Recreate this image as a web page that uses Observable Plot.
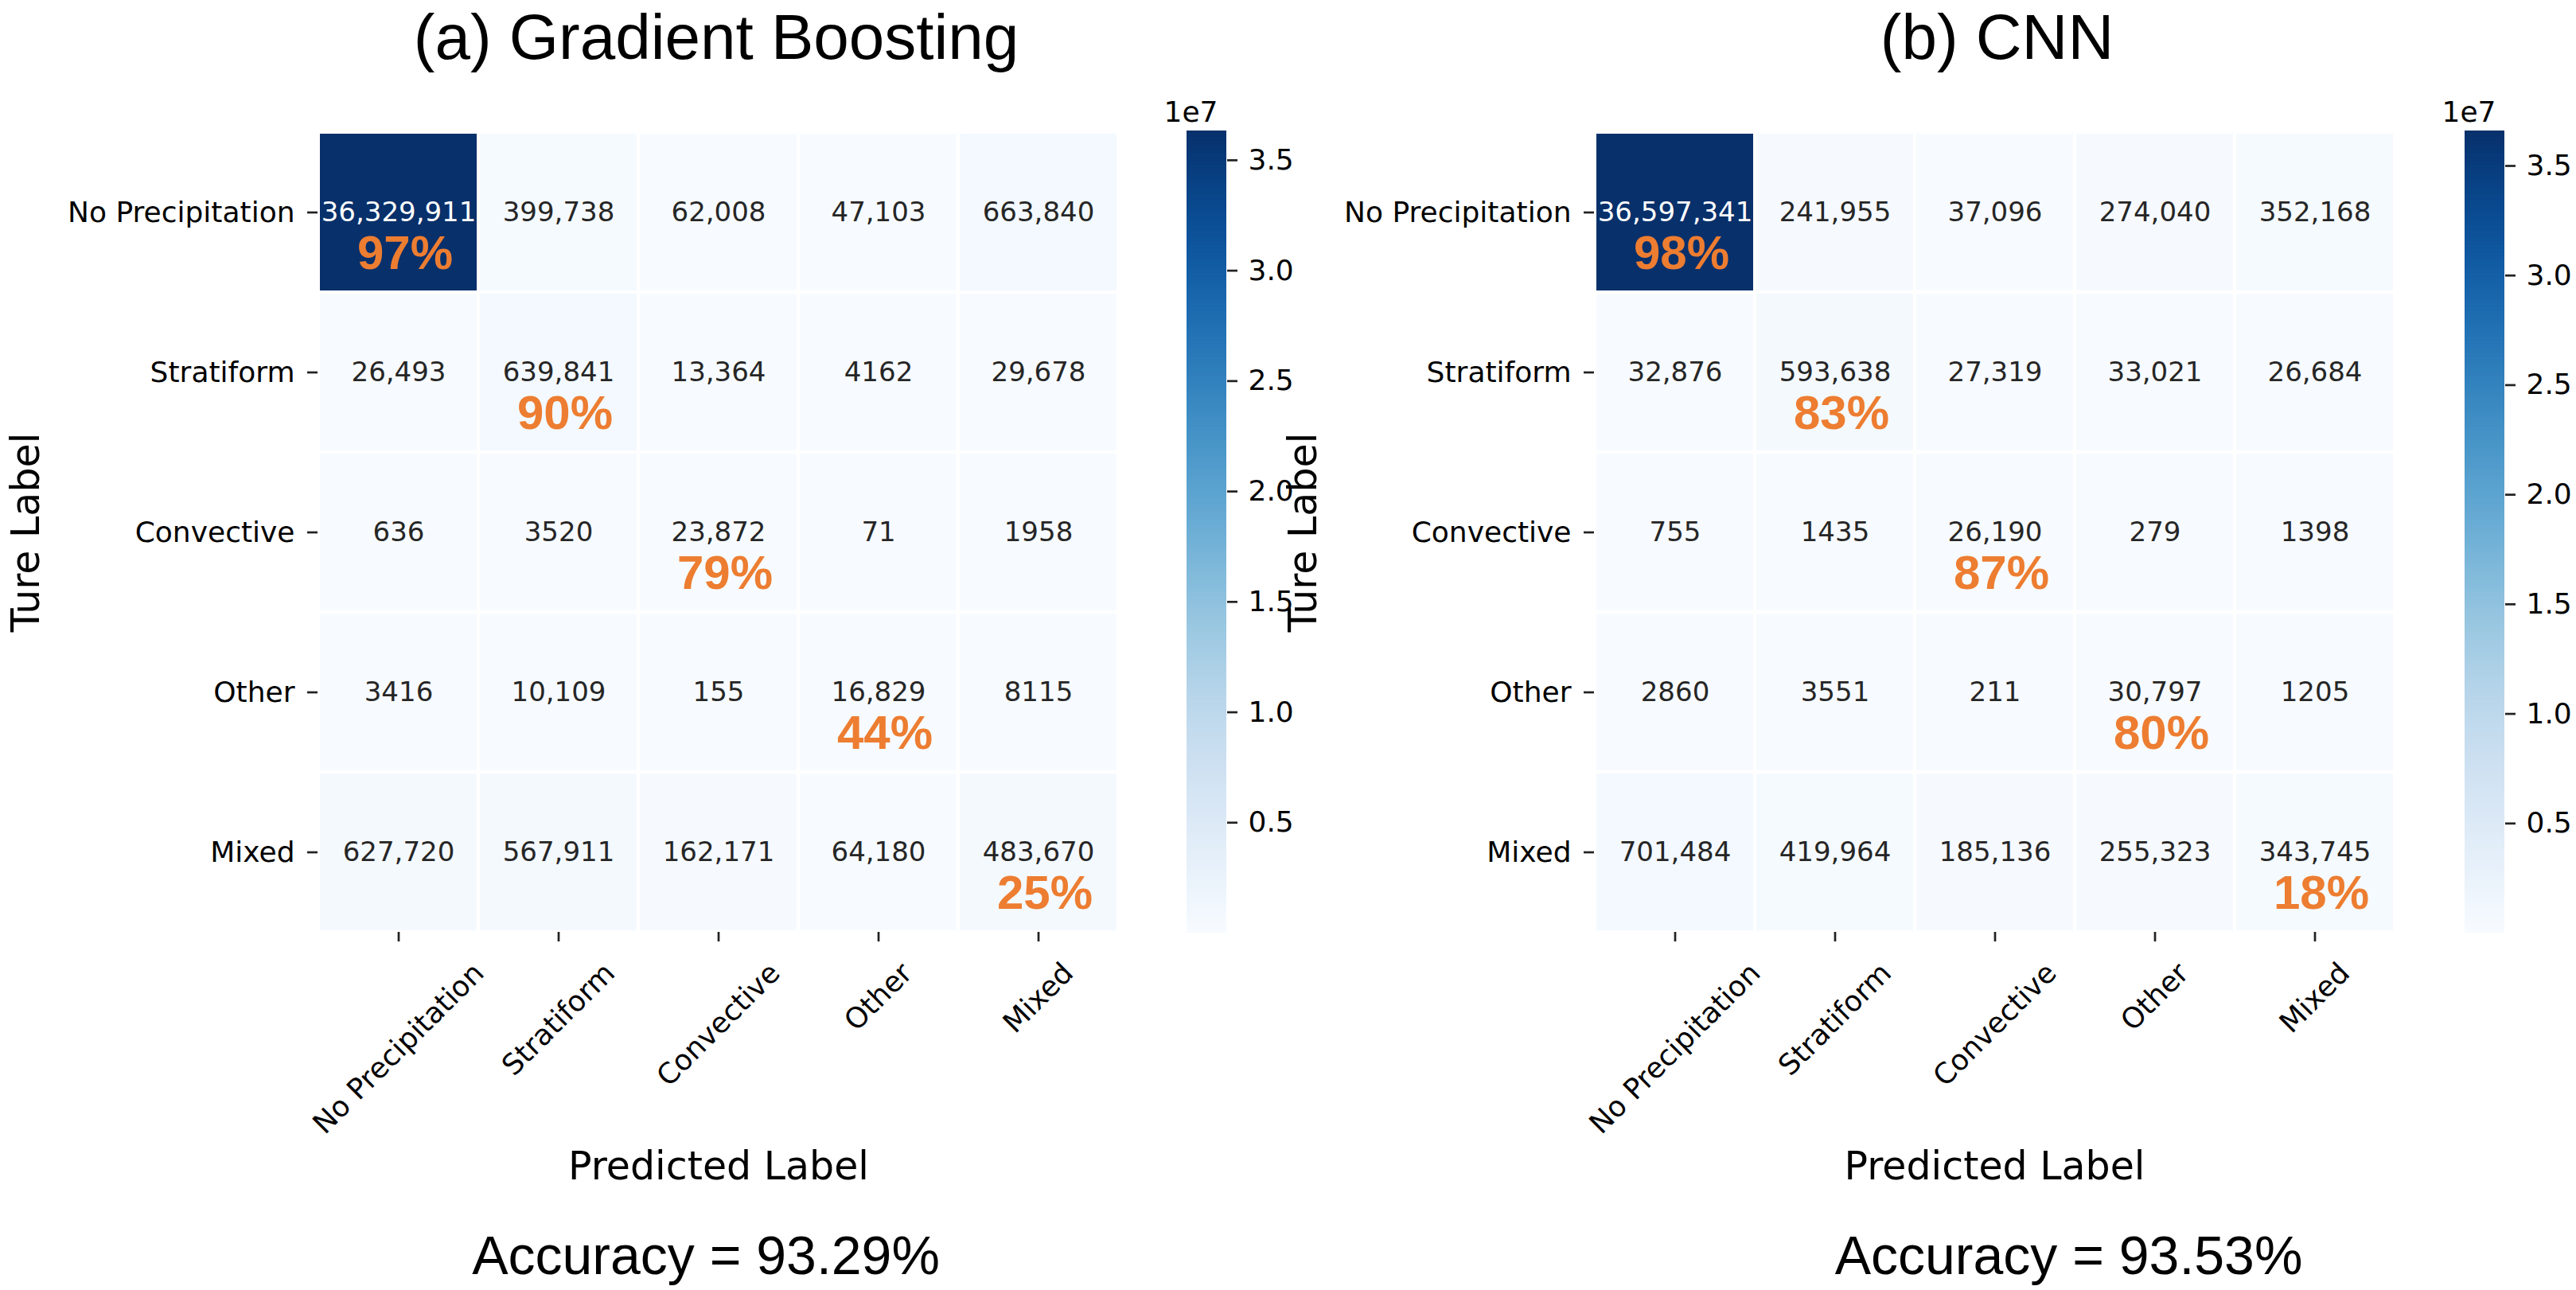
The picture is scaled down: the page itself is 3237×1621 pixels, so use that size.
<!DOCTYPE html>
<html>
<head>
<meta charset="utf-8">
<script src="https://cdn.jsdelivr.net/npm/d3@7"></script>
<script src="https://cdn.jsdelivr.net/npm/@observablehq/plot@0.6"></script>
<style>
html, body { margin: 0; padding: 0; background: #fff; }
#fig { position: relative; width: 3237px; height: 1621px; background: #fff; overflow: hidden; }
#fig svg { position: absolute; top: 0; }
</style>
</head>
<body>
<div id="fig"></div>
<script>
// ---------------- data ----------------
const classes = ["No Precipitation", "Stratiform", "Convective", "Other", "Mixed"];

// rows = true label, columns = predicted label
const gbCounts = [
  [36329911, 399738, 62008, 47103, 663840],
  [26493, 639841, 13364, 4162, 29678],
  [636, 3520, 23872, 71, 1958],
  [3416, 10109, 155, 16829, 8115],
  [627720, 567911, 162171, 64180, 483670]
];
const cnnCounts = [
  [36597341, 241955, 37096, 274040, 352168],
  [32876, 593638, 27319, 33021, 26684],
  [755, 1435, 26190, 279, 1398],
  [2860, 3551, 211, 30797, 1205],
  [701484, 419964, 185136, 255323, 343745]
];
const gbRecall = [97, 90, 79, 44, 25];
const cnnRecall = [98, 83, 87, 80, 18];

const colorbarTicks = [5e6, 1e7, 1.5e7, 2e7, 2.5e7, 3e7, 3.5e7];
const panelTitles = ["(a) Gradient Boosting", "(b) CNN"];
const accuracyTexts = ["Accuracy = 93.29%", "Accuracy = 93.53%"];
const xAxisLabel = "Predicted Label";
const yAxisLabel = "Ture Label";

// ---------------- layout ----------------
const H = 1621;
const FRAME_TOP = 166, FRAME_BOTTOM = 1171;
const TICK_FS = 36;
const SANS = "'DejaVu Sans', sans-serif";
const ARIAL = "'Liberation Sans', Arial, sans-serif";
const fig = document.getElementById("fig");
const ctx = document.createElement("canvas").getContext("2d");
function textWidth(s, font) { ctx.font = font; return ctx.measureText(s).width; }
function fmtCount(v) { return v >= 10000 ? d3.format(",")(v) : String(v); }

const baseStyle = {background: "none", overflow: "visible", maxWidth: "none", fontFamily: SANS, color: "black"};

function place(svg, left) {
  svg.style.left = left + "px";
  svg.style.position = "absolute";
  svg.style.top = "0px";
  fig.appendChild(svg);
}

function panel(cfg) {
  const cells = [];
  cfg.counts.forEach((row, i) => row.forEach((v, j) => cells.push({t: classes[i], p: classes[j], v})));
  const diag = classes.map((c, i) => ({t: c, p: c, pct: cfg.recall[i]}));
  const vals = cells.map(d => d.v);
  const dom = [d3.min(vals), d3.max(vals)];
  const color = {type: "linear", scheme: "blues", domain: dom};

  const heat = Plot.plot({
    width: cfg.marginLeft + cfg.frameW + 20,
    height: H,
    marginLeft: cfg.marginLeft, marginRight: 20,
    marginTop: FRAME_TOP, marginBottom: H - FRAME_BOTTOM,
    x: {domain: classes, padding: 0},
    y: {domain: classes, padding: 0},
    color,
    style: {...baseStyle},
    marks: [
      Plot.cell(cells, {x: "p", y: "t", fill: "v", inset: 2}),
      Plot.text(cells, {
        x: "p", y: "t", text: d => fmtCount(d.v),
        fill: d => d.v > dom[1] * 0.5 ? "white" : "#262626",
        fontSize: 34
      }),
      Plot.text(diag, {
        x: "p", y: "t", text: d => d.pct + "%",
        dx: 8, dy: 52, fill: "#ED7D31",
        fontSize: 60, fontWeight: "bold", fontFamily: ARIAL
      }),
      Plot.axisY({tickSize: 13, tickPadding: 16, fontSize: TICK_FS, label: null, stroke: "#222", strokeWidth: 2.7}),
      Plot.axisX({tickSize: 12, tickFormat: () => "", label: null, stroke: "#222", strokeWidth: 2.7}),
      Plot.text(classes, {x: d => d, frameAnchor: "bottom", rotate: -45, textAnchor: "middle", lineAnchor: "middle", fontSize: TICK_FS}),
      Plot.text([xAxisLabel], {frameAnchor: "bottom", dy: 310, lineAnchor: "bottom", fontSize: 49}),
      Plot.text([yAxisLabel], {frameAnchor: "left", dx: cfg.yLabelDx, rotate: -90, textAnchor: "middle", lineAnchor: "bottom", fontSize: 49}),
      Plot.text([cfg.title], {frameAnchor: "top", dy: -93, dx: cfg.titleDx, lineAnchor: "bottom", fontSize: 80, fontFamily: ARIAL}),
      Plot.text([cfg.accuracy], {frameAnchor: "bottom", dy: 429, dx: cfg.accDx, lineAnchor: "bottom", fontSize: 68, fontFamily: ARIAL})
    ]
  });

  // matplotlib-style rotated tick labels: rotated bbox centred under the tick, top at fixed offset
  const capH = 0.73 * TICK_FS;
  d3.select(heat).selectAll("text").each(function () {
    const tr = this.getAttribute("transform") || "";
    if (!/rotate\(-45/.test(tr)) return;
    const m = tr.match(/translate\(([-\d.e]+)\s*,\s*([-\d.e]+)\)/);
    if (!m) return;
    const x = +m[1], y = +m[2];
    const w = textWidth(this.textContent, TICK_FS + "px " + SANS);
    const ny = y + 36 + (w + capH) * 0.3536;
    this.setAttribute("transform", `translate(${x},${ny}) rotate(-45)`);
  });
  place(heat, cfg.left);

  // colour bar
  const N = 400;
  const step = (dom[1] - dom[0]) / N;
  const samples = d3.range(N).map(i => dom[0] + step * i);
  const cbar = Plot.plot({
    width: 20 + 50 + cfg.cbRight,
    height: H,
    marginLeft: 20, marginRight: cfg.cbRight,
    marginTop: 164, marginBottom: H - 1172,
    y: {domain: dom},
    color,
    style: {...baseStyle},
    marks: [
      Plot.rect(samples, {y1: d => d, y2: d => Math.min(d + step * 1.6, dom[1]), fill: d => d}),
      Plot.axisY({anchor: "right", ticks: colorbarTicks, tickFormat: d => (d / 1e7).toFixed(1),
        tickSize: 13, tickPadding: 14, fontSize: TICK_FS, label: null, stroke: "#222", strokeWidth: 2.7}),
      Plot.text(["1e7"], {frameAnchor: "top-right", dx: -11, dy: -12, textAnchor: "end", lineAnchor: "bottom", fontSize: TICK_FS})
    ]
  });
  place(cbar, cfg.cbLeft);
}

panel({counts: gbCounts, recall: gbRecall, title: panelTitles[0], accuracy: accuracyTexts[0],
  left: 0, marginLeft: 399, frameW: 1007, yLabelDx: -351, titleDx: -3, accDx: -16,
  cbLeft: 1471, cbRight: 110});
panel({counts: cnnCounts, recall: cnnRecall, title: panelTitles[1], accuracy: accuracyTexts[1],
  left: 1600, marginLeft: 403, frameW: 1006, yLabelDx: -350, titleDx: 3, accDx: 93,
  cbLeft: 3077, cbRight: 90});
</script>
</body>
</html>
